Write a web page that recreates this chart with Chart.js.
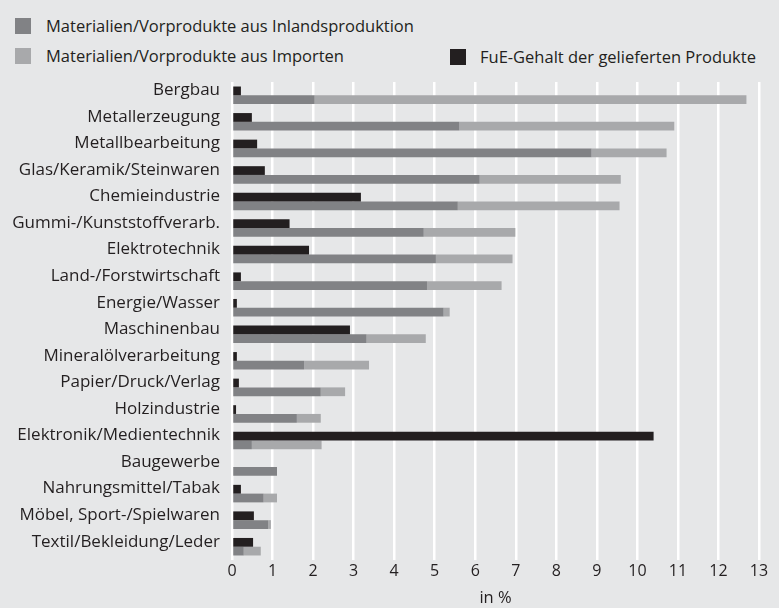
<!DOCTYPE html>
<html>
<head>
<meta charset="utf-8">
<script src="https://cdn.jsdelivr.net/npm/chart.js@4"></script>
<style>
  html, body { margin: 0; padding: 0; }
  body { width: 779px; height: 608px; background: #e6e7e8; position: relative; overflow: hidden; font-family: "Open Sans", sans-serif; color: #231f20; }
  #wrap { position: absolute; left: 0; top: 0; width: 779px; height: 608px; }
  .leg { position: absolute; font-size: 16.5px; line-height: 20px; white-space: nowrap; }
  .leg span.sw { position: absolute; width: 16px; height: 16px; }
  .leg span.tx { position: absolute; }
</style>
</head>
<body>
<div id="legend"></div>
<div id="wrap"><canvas id="c" width="779" height="608"></canvas></div>
<script>
const categories = ["Bergbau","Metallerzeugung","Metallbearbeitung","Glas/Keramik/Steinwaren","Chemieindustrie","Gummi-/Kunststoffverarb.","Elektrotechnik","Land-/Forstwirtschaft","Energie/Wasser","Maschinenbau","Mineralölverarbeitung","Papier/Druck/Verlag","Holzindustrie","Elektronik/Medientechnik","Baugewerbe","Nahrungsmittel/Tabak","Möbel, Sport-/Spielwaren","Textil/Bekleidung/Leder"];
const fueValues    = [0.22,0.49,0.62,0.81,3.18,1.42,1.90,0.22,0.12,2.91,0.12,0.17,0.10,10.40,0,0.22,0.54,0.52];
const inlandValues = [2.04,5.61,8.87,6.11,5.57,4.73,5.03,4.81,5.22,3.32,1.78,2.19,1.60,0.49,1.11,0.78,0.89,0.29];
const importValues = [10.65,5.30,1.85,3.48,3.99,2.26,1.89,1.84,0.15,1.46,1.60,0.60,0.59,1.72,0,0.33,0.07,0.42];
const xTicks = [0,1,2,3,4,5,6,7,8,9,10,11,12,13];
const seriesNames = ["Materialien/Vorprodukte aus Inlandsproduktion","Materialien/Vorprodukte aus Importen","FuE-Gehalt der gelieferten Produkte"];
const axisTitle = "in %";

const COL_IN = "#818285", COL_IMP = "#a8a9ab", COL_FUE = "#231f20", TXT = "#231f20";

// HTML legend
const legendPos = [
  {sx: 15, sy: 18, tx: 46, ty: 16},
  {sx: 15, sy: 48, tx: 46, ty: 46},
  {sx: 450, sy: 49, tx: 480, ty: 47}
];
const legendCols = [COL_IN, COL_IMP, COL_FUE];
const legEl = document.getElementById('legend');
seriesNames.forEach((name, i) => {
  const p = legendPos[i];
  const d = document.createElement('div');
  d.className = 'leg';
  d.innerHTML = `<span class="sw" style="left:${p.sx}px;top:${p.sy}px;background:${legendCols[i]}"></span><span class="tx" style="left:${p.tx}px;top:${p.ty}px">${name}</span>`;
  legEl.appendChild(d);
});

Chart.defaults.font.family = "'Open Sans', sans-serif";
Chart.defaults.color = TXT;

new Chart(document.getElementById('c'), {
  type: 'bar',
  data: {
    labels: categories,
    datasets: [
      {label: seriesNames[2], data: fueValues, backgroundColor: COL_FUE, stack: 'fue'},
      {label: seriesNames[0], data: inlandValues, backgroundColor: COL_IN, stack: 'mat'},
      {label: seriesNames[1], data: importValues, backgroundColor: COL_IMP, stack: 'mat'}
    ]
  },
  options: {
    indexAxis: 'y',
    responsive: false,
    animation: false,
    devicePixelRatio: 1,
    categoryPercentage: 0.66,
    barPercentage: 1.0,
    layout: { padding: { top: 82, right: 20, bottom: 0, left: 0 } },
    plugins: { legend: { display: false }, tooltip: { enabled: false } },
    scales: {
      x: {
        stacked: true,
        min: 0, max: 13,
        afterBuildTicks: (s) => { s.ticks = xTicks.map(v => ({value: v})); },
        afterFit: (s) => { s.height = 48; },
        grid: { color: '#ffffff', lineWidth: 2.5, drawTicks: false },
        border: { display: false },
        ticks: { padding: 2, font: { size: 16 }, color: TXT },
        title: { display: true, text: axisTitle, font: { size: 16.5 }, color: TXT, padding: { top: 0, bottom: 0 } }
      },
      y: {
        stacked: true,
        afterFit: (s) => { s.width = 232; },
        grid: { display: false, drawTicks: false },
        border: { display: false },
        ticks: { padding: 12, font: { size: 17 }, color: TXT, labelOffset: -5, autoSkip: false }
      }
    }
  }
});
</script>
</body>
</html>
